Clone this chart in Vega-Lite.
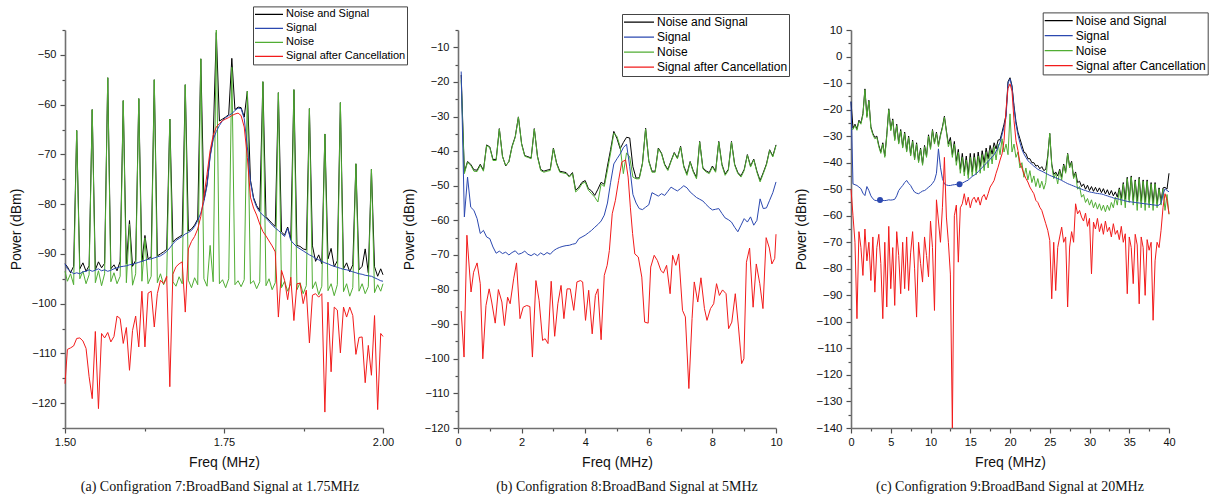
{
"$schema":"https://vega.github.io/schema/vega-lite/v6.json",
"padding":{"left":9,"top":5,"right":4,"bottom":4},
"background":"white",
"bounds":"flush",
"spacing":75,
"resolve":{"scale":{"color":"independent"},"legend":{"color":"independent"}},
"config":{
"view":{"stroke":null},
"axis":{"labelFont":"Liberation Sans","labelFontSize":11,"labelColor":"#111111","titleFont":"Liberation Sans","titleFontSize":14,"titleFontWeight":"normal","titleColor":"#111111","domainColor":"#707070","domainWidth":1.6,"tickColor":"#505050","tickWidth":1.2,"grid":false,"labelFlush":false,"labelOverlap":false},
"axisX":{"labelPadding":3,"titlePadding":8},
"axisY":{"labelPadding":4,"titlePadding":8},
"legend":{"orient":"none","direction":"vertical","strokeColor":"#444444","fillColor":"#ffffff","padding":1,"symbolType":"stroke","symbolStrokeWidth":1.3,"labelFont":"Liberation Sans","labelColor":"#000000","labelOffset":2,"rowPadding":0},
"title":{"font":"Liberation Serif","fontSize":14,"fontWeight":"normal","color":"#111111"}
},
"datasets":{
"A":[
{"x":1.5,"k":-92,"b":-92,"g":-93.5,"r":-116.1},
{"x":1.5038,"k":-92.6,"b":-93,"g":-95.5,"r":-109.2},
{"x":1.5087,"k":-93.8,"b":-93.5,"g":-94,"r":-108.9},
{"x":1.5136,"k":-92.5,"b":-94,"g":-96.2,"r":-108.5},
{"x":1.5184,"k":-65.2,"b":-93.8,"g":-65.2,"r":-107},
{"x":1.5233,"k":-93,"b":-94,"g":-95,"r":-106.9},
{"x":1.5282,"k":-91.8,"b":-93.6,"g":-93.5,"r":-107.5},
{"x":1.5331,"k":-93.5,"b":-93.5,"g":-96,"r":-109},
{"x":1.5379,"k":-92.4,"b":-93.2,"g":-94.2,"r":-114.7},
{"x":1.5428,"k":-61,"b":-93.5,"g":-61,"r":-119.1},
{"x":1.5477,"k":-93.2,"b":-93.3,"g":-95.8,"r":-105.6},
{"x":1.5526,"k":-91.6,"b":-93,"g":-93.4,"r":-121.1},
{"x":1.5575,"k":-92.8,"b":-93.4,"g":-96.4,"r":-106},
{"x":1.5623,"k":-91.9,"b":-93.2,"g":-94,"r":-106.9},
{"x":1.5672,"k":-54.6,"b":-93.5,"g":-54.6,"r":-105.8},
{"x":1.5721,"k":-93,"b":-93.3,"g":-95.6,"r":-107.7},
{"x":1.577,"k":-92.2,"b":-93,"g":-93.8,"r":-106.6},
{"x":1.5818,"k":-93.4,"b":-92.8,"g":-96,"r":-102.5},
{"x":1.5867,"k":-91.5,"b":-92.6,"g":-94.5,"r":-103},
{"x":1.5916,"k":-59.2,"b":-92.5,"g":-59.2,"r":-108},
{"x":1.5965,"k":-92,"b":-92.4,"g":-95.8,"r":-104.8},
{"x":1.6014,"k":-83.3,"b":-92.2,"g":-84,"r":-113.4},
{"x":1.6062,"k":-92.5,"b":-92.1,"g":-96.3,"r":-105.4},
{"x":1.6111,"k":-91.3,"b":-91.9,"g":-94,"r":-102.5},
{"x":1.616,"k":-58.8,"b":-91.7,"g":-58.8,"r":-108.7},
{"x":1.6209,"k":-91.6,"b":-91.5,"g":-95.5,"r":-97.5},
{"x":1.6257,"k":-86.3,"b":-91.3,"g":-86.8,"r":-108.7},
{"x":1.6306,"k":-91,"b":-91.1,"g":-96,"r":-97.9},
{"x":1.6355,"k":-90.6,"b":-91,"g":-94.5,"r":-97.5},
{"x":1.6404,"k":-55,"b":-90.8,"g":-55,"r":-104.7},
{"x":1.6452,"k":-90.4,"b":-90.6,"g":-95.8,"r":-98},
{"x":1.6501,"k":-90,"b":-90.4,"g":-94,"r":-95.3},
{"x":1.655,"k":-89.6,"b":-90,"g":-96.2,"r":-96},
{"x":1.6599,"k":-89.1,"b":-89.5,"g":-94.8,"r":-94.5},
{"x":1.6648,"k":-62.9,"b":-88.8,"g":-62.9,"r":-116.7},
{"x":1.6696,"k":-87.6,"b":-88,"g":-95.6,"r":-94.1},
{"x":1.6745,"k":-87,"b":-87.3,"g":-96.5,"r":-92.6},
{"x":1.6794,"k":-86.6,"b":-86.9,"g":-94.6,"r":-92},
{"x":1.6843,"k":-86.2,"b":-86.5,"g":-96,"r":-91.6},
{"x":1.6891,"k":-56,"b":-86,"g":-56,"r":-101.7},
{"x":1.694,"k":-85.4,"b":-85.7,"g":-95.3,"r":-89},
{"x":1.6989,"k":-85,"b":-85.3,"g":-96.8,"r":-87.5},
{"x":1.7038,"k":-84.2,"b":-84.5,"g":-94.8,"r":-86.5},
{"x":1.7087,"k":-83,"b":-83.3,"g":-96.2,"r":-85},
{"x":1.7135,"k":-50.8,"b":-81.8,"g":-50.8,"r":-82.5},
{"x":1.7184,"k":-79.2,"b":-79.5,"g":-95,"r":-78.5},
{"x":1.7233,"k":-76,"b":-76.3,"g":-96.5,"r":-74},
{"x":1.7282,"k":-70.2,"b":-70.5,"g":-88.3,"r":-69.2},
{"x":1.733,"k":-66.7,"b":-67,"g":-95.6,"r":-66.2},
{"x":1.7379,"k":-45.5,"b":-65.4,"g":-45,"r":-64.5},
{"x":1.7428,"k":-63.3,"b":-64.2,"g":-96,"r":-63.8},
{"x":1.7477,"k":-62.9,"b":-63.2,"g":-95.2,"r":-63.2},
{"x":1.7526,"k":-62.5,"b":-62.6,"g":-96.8,"r":-62.9},
{"x":1.7574,"k":-62,"b":-62.2,"g":-95,"r":-62.6},
{"x":1.7623,"k":-50.7,"b":-61.8,"g":-52.5,"r":-62.2},
{"x":1.7672,"k":-61,"b":-61.2,"g":-96.2,"r":-61.9},
{"x":1.7721,"k":-60.5,"b":-60.7,"g":-95.4,"r":-61.7},
{"x":1.7769,"k":-60.6,"b":-60.8,"g":-96.6,"r":-62.2},
{"x":1.7818,"k":-62.5,"b":-62.8,"g":-95.2,"r":-64.5},
{"x":1.7867,"k":-57.3,"b":-68.5,"g":-57.3,"r":-70.6},
{"x":1.7916,"k":-75.2,"b":-75.5,"g":-96,"r":-78.6},
{"x":1.7965,"k":-78.7,"b":-79,"g":-95.4,"r":-80.8},
{"x":1.8013,"k":-80.3,"b":-80.6,"g":-97,"r":-82.2},
{"x":1.8062,"k":-81.3,"b":-81.6,"g":-95.6,"r":-84},
{"x":1.8111,"k":-55.4,"b":-82.2,"g":-55.4,"r":-85.5},
{"x":1.816,"k":-82.5,"b":-82.8,"g":-96.4,"r":-86.4},
{"x":1.8208,"k":-83.2,"b":-83.5,"g":-95,"r":-87.4},
{"x":1.8257,"k":-83.9,"b":-84.2,"g":-97.2,"r":-88.4},
{"x":1.8306,"k":-84.5,"b":-84.8,"g":-95.8,"r":-89.6},
{"x":1.8355,"k":-57.6,"b":-85.3,"g":-57.6,"r":-102.7},
{"x":1.8404,"k":-85.6,"b":-85.9,"g":-96.8,"r":-93.3},
{"x":1.8452,"k":-86.2,"b":-86.5,"g":-95.5,"r":-95.3},
{"x":1.8501,"k":-84.6,"b":-84.8,"g":-97.5,"r":-99.2},
{"x":1.855,"k":-87,"b":-87.3,"g":-96,"r":-94.7},
{"x":1.8599,"k":-57,"b":-88,"g":-57,"r":-103.4},
{"x":1.8647,"k":-88.3,"b":-88.6,"g":-97.2,"r":-96},
{"x":1.8696,"k":-88.5,"b":-89,"g":-95.8,"r":-95.9},
{"x":1.8745,"k":-89,"b":-89.4,"g":-98,"r":-100},
{"x":1.8794,"k":-89.2,"b":-89.8,"g":-96.4,"r":-97.3},
{"x":1.8843,"k":-60.8,"b":-90.2,"g":-60.8,"r":-107.9},
{"x":1.8891,"k":-88.4,"b":-90.5,"g":-97,"r":-98.3},
{"x":1.894,"k":-91.5,"b":-90.9,"g":-95.6,"r":-98},
{"x":1.8989,"k":-90.2,"b":-91.2,"g":-98.2,"r":-98.7},
{"x":1.9038,"k":-92,"b":-91.5,"g":-96.5,"r":-98},
{"x":1.9086,"k":-65.9,"b":-91.8,"g":-65.9,"r":-121.8},
{"x":1.9135,"k":-91,"b":-92,"g":-97.4,"r":-99.7},
{"x":1.9184,"k":-88.9,"b":-92.3,"g":-96,"r":-113.7},
{"x":1.9233,"k":-92.6,"b":-92.5,"g":-98.4,"r":-100.7},
{"x":1.9282,"k":-91.4,"b":-92.7,"g":-96.2,"r":-101.3},
{"x":1.933,"k":-59.6,"b":-92.9,"g":-59.6,"r":-109.9},
{"x":1.9379,"k":-93,"b":-93.1,"g":-97.6,"r":-100.7},
{"x":1.9428,"k":-91.8,"b":-93.2,"g":-96,"r":-102.7},
{"x":1.9477,"k":-93.6,"b":-93.4,"g":-98.5,"r":-100.7},
{"x":1.9525,"k":-92.2,"b":-93.6,"g":-96.8,"r":-102.4},
{"x":1.9574,"k":-71.9,"b":-93.8,"g":-71.9,"r":-110.2},
{"x":1.9623,"k":-93.2,"b":-94,"g":-97.5,"r":-106.8},
{"x":1.9672,"k":-92.5,"b":-94.1,"g":-96,"r":-106.7},
{"x":1.972,"k":-89,"b":-94.3,"g":-98,"r":-115.9},
{"x":1.9769,"k":-93.8,"b":-94.4,"g":-96.6,"r":-108.4},
{"x":1.9818,"k":-73,"b":-94.5,"g":-73,"r":-114.4},
{"x":1.9867,"k":-92.6,"b":-94.8,"g":-97.8,"r":-102.4},
{"x":1.9916,"k":-94.5,"b":-95.1,"g":-96.2,"r":-121.3},
{"x":1.9964,"k":-93,"b":-95.4,"g":-97.5,"r":-106},
{"x":2.0,"k":-94.2,"b":-95.5,"g":-96,"r":-106.6}
],
"B":[
{"x":0.1,"k":-18,"b":-17,"g":-19.5},
{"x":0.2,"k":-46,"b":-59,"g":-46.5},
{"x":0.3,"k":-43,"b":-47.5,"g":-43.2},
{"x":0.4,"k":-43.8,"b":-56.2,"g":-44.1},
{"x":0.5,"k":-45.4,"b":-57.1,"g":-45.8},
{"x":0.6,"k":-45.5,"b":-59.5,"g":-45.9},
{"x":0.7,"k":-43.8,"b":-63.8,"g":-44.1},
{"x":0.8,"k":-45.5,"b":-62.9,"g":-45.8},
{"x":0.9,"k":-38.2,"b":-64.8,"g":-38.4},
{"x":1.0,"k":-38.8,"b":-65.3,"g":-39},
{"x":1.1,"k":-42.4,"b":-67.7,"g":-42.7},
{"x":1.2,"k":-42.4,"b":-69.5,"g":-42.7},
{"x":1.3,"k":-33.5,"b":-68.9,"g":-33.6},
{"x":1.4,"k":-41.5,"b":-69.6,"g":-41.7},
{"x":1.5,"k":-44.3,"b":-69.2,"g":-44.1},
{"x":1.6,"k":-43,"b":-70,"g":-43.2},
{"x":1.7,"k":-38.6,"b":-69.3,"g":-38.8},
{"x":1.8,"k":-35.8,"b":-68.8,"g":-36},
{"x":1.9,"k":-30.1,"b":-69.8,"g":-30.2},
{"x":2.0,"k":-37.8,"b":-69.5,"g":-38},
{"x":2.1,"k":-41.3,"b":-68.9,"g":-41.5},
{"x":2.2,"k":-41.6,"b":-69.8,"g":-41.8},
{"x":2.3,"k":-42,"b":-70.2,"g":-42.2},
{"x":2.4,"k":-33.5,"b":-69.6,"g":-33.6},
{"x":2.5,"k":-41.5,"b":-70.2,"g":-41.7},
{"x":2.6,"k":-45.3,"b":-69.4,"g":-45.6},
{"x":2.7,"k":-45.8,"b":-70,"g":-46.1},
{"x":2.8,"k":-45.5,"b":-69.3,"g":-45.8},
{"x":2.9,"k":-45.3,"b":-69.8,"g":-45.6},
{"x":3.0,"k":-39.1,"b":-68.8,"g":-39.3},
{"x":3.1,"k":-43.4,"b":-68.2,"g":-43.7},
{"x":3.2,"k":-45.8,"b":-67.8,"g":-46.1},
{"x":3.3,"k":-46,"b":-67.5,"g":-46.3},
{"x":3.4,"k":-46.2,"b":-67.3,"g":-46.5},
{"x":3.5,"k":-47.3,"b":-67.2,"g":-47.5},
{"x":3.6,"k":-46.2,"b":-66.9,"g":-46.5},
{"x":3.7,"k":-51.3,"b":-66.7,"g":-51.8},
{"x":3.8,"k":-50.4,"b":-65.3,"g":-50.9},
{"x":3.9,"k":-49,"b":-64.8,"g":-49.4},
{"x":4.0,"k":-48.5,"b":-64.3,"g":-48.9},
{"x":4.1,"k":-50.8,"b":-63.6,"g":-51.3},
{"x":4.2,"k":-51.5,"b":-62.9,"g":-52.3},
{"x":4.3,"k":-52.8,"b":-62,"g":-53.3},
{"x":4.4,"k":-51,"b":-61.2,"g":-54.7},
{"x":4.5,"k":-49,"b":-60.2,"g":-49.5},
{"x":4.6,"k":-49.6,"b":-58.5,"g":-50.2},
{"x":4.7,"k":-44.3,"b":-55,"g":-45.5},
{"x":4.8,"k":-39.5,"b":-49,"g":-40.5},
{"x":4.9,"k":-34.3,"b":-43.7,"g":-34.8},
{"x":5.0,"k":-36.4,"b":-42.2,"g":-35.8},
{"x":5.1,"k":-39.3,"b":-40.8,"g":-38.8},
{"x":5.2,"k":-37.5,"b":-39,"g":-46.5},
{"x":5.3,"k":-36,"b":-38,"g":-40.5},
{"x":5.4,"k":-36.2,"b":-44.5,"g":-41.7},
{"x":5.5,"k":-44.5,"b":-52.5,"g":-47.5},
{"x":5.6,"k":-47.8,"b":-55,"g":-48},
{"x":5.7,"k":-47.7,"b":-56.6,"g":-48},
{"x":5.8,"k":-43.5,"b":-56.9,"g":-43.7},
{"x":5.9,"k":-33.4,"b":-56.2,"g":-33.6},
{"x":6.0,"k":-42.8,"b":-55.5,"g":-43},
{"x":6.1,"k":-45.8,"b":-52,"g":-46.1},
{"x":6.2,"k":-45.8,"b":-52.5,"g":-46.1},
{"x":6.3,"k":-39.1,"b":-53,"g":-39.3},
{"x":6.4,"k":-40.6,"b":-52.3,"g":-40.8},
{"x":6.5,"k":-43.8,"b":-52.8,"g":-44.1},
{"x":6.6,"k":-45.3,"b":-51.6,"g":-45.6},
{"x":6.7,"k":-42.8,"b":-50.4,"g":-43},
{"x":6.8,"k":-40.4,"b":-51,"g":-40.6},
{"x":6.9,"k":-42,"b":-51.5,"g":-42.2},
{"x":7.0,"k":-38.6,"b":-50.8,"g":-38.8},
{"x":7.1,"k":-44.3,"b":-50,"g":-44.6},
{"x":7.2,"k":-46.6,"b":-50.6,"g":-47},
{"x":7.3,"k":-43,"b":-51.8,"g":-43.2},
{"x":7.4,"k":-45.8,"b":-52.6,"g":-46.1},
{"x":7.5,"k":-47.6,"b":-53.4,"g":-48},
{"x":7.6,"k":-37.2,"b":-53.9,"g":-37.4},
{"x":7.7,"k":-44.8,"b":-54.4,"g":-45.1},
{"x":7.8,"k":-45.7,"b":-55.4,"g":-46},
{"x":7.9,"k":-46.2,"b":-56.3,"g":-46.5},
{"x":8.0,"k":-44.3,"b":-57,"g":-44.6},
{"x":8.1,"k":-45.8,"b":-56.8,"g":-46.1},
{"x":8.2,"k":-37.2,"b":-56.6,"g":-37.4},
{"x":8.3,"k":-43.8,"b":-58,"g":-44.1},
{"x":8.4,"k":-46.6,"b":-59.3,"g":-47},
{"x":8.5,"k":-45.3,"b":-59.8,"g":-45.6},
{"x":8.6,"k":-37.2,"b":-60.5,"g":-37.4},
{"x":8.7,"k":-43.8,"b":-62,"g":-44.1},
{"x":8.8,"k":-46.2,"b":-63.3,"g":-46.5},
{"x":8.9,"k":-47.1,"b":-61.4,"g":-47.5},
{"x":9.0,"k":-45.3,"b":-59.5,"g":-45.6},
{"x":9.1,"k":-41,"b":-60.5,"g":-41.2},
{"x":9.2,"k":-44.3,"b":-59,"g":-44.6},
{"x":9.3,"k":-42.3,"b":-61.4,"g":-42.5},
{"x":9.4,"k":-45.8,"b":-60,"g":-46.1},
{"x":9.5,"k":-48.5,"b":-53.8,"g":-48.9},
{"x":9.6,"k":-46.2,"b":-56.6,"g":-46.5},
{"x":9.7,"k":-43.7,"b":-56.4,"g":-44},
{"x":9.8,"k":-39.6,"b":-54.2,"g":-39.8},
{"x":9.9,"k":-41.4,"b":-52,"g":-41.7},
{"x":10.0,"k":-38.2,"b":-48.9,"g":-38.4}
],
"Br":[
{"x":0.1,"r":-86.2},{"x":0.19,"r":-99.5},{"x":0.28,"r":-64.3},{"x":0.41,"r":-80.7},{"x":0.49,"r":-75},{"x":0.6,"r":-72.3},{"x":0.7,"r":-78.3},{"x":0.78,"r":-100},{"x":0.88,"r":-84.6},{"x":0.98,"r":-79.8},
{"x":1.06,"r":-83.6},{"x":1.17,"r":-89.7},{"x":1.27,"r":-80},{"x":1.38,"r":-83.6},{"x":1.46,"r":-90.4},{"x":1.56,"r":-82.2},{"x":1.64,"r":-84.1},{"x":1.75,"r":-76.9},{"x":1.84,"r":-72.3},{"x":1.95,"r":-88.4},
{"x":2.05,"r":-85.1},{"x":2.16,"r":-84.6},{"x":2.26,"r":-84.9},{"x":2.34,"r":-99.5},{"x":2.45,"r":-77.4},{"x":2.55,"r":-83.1},{"x":2.66,"r":-94.7},{"x":2.74,"r":-94.2},{"x":2.83,"r":-95.6},{"x":2.93,"r":-77.6},
{"x":3.04,"r":-93.5},{"x":3.14,"r":-84.1},{"x":3.24,"r":-78.8},{"x":3.33,"r":-88.4},{"x":3.43,"r":-79.8},{"x":3.53,"r":-79.8},{"x":3.64,"r":-86},{"x":3.74,"r":-77.8},{"x":3.85,"r":-77.4},{"x":3.92,"r":-77.8},
{"x":4.01,"r":-88.9},{"x":4.11,"r":-80.2},{"x":4.22,"r":-92.8},{"x":4.32,"r":-81.7},{"x":4.4,"r":-79.8},{"x":4.5,"r":-94.5},{"x":4.6,"r":-75.9},{"x":4.69,"r":-73},{"x":4.76,"r":-68.7},{"x":4.85,"r":-58.1},
{"x":4.95,"r":-54.2},{"x":5.05,"r":-48.5},{"x":5.15,"r":-43.2},{"x":5.27,"r":-42.5},{"x":5.35,"r":-47.5},{"x":5.42,"r":-56.2},{"x":5.49,"r":-63.8},{"x":5.56,"r":-69.7},{"x":5.67,"r":-70.6},{"x":5.78,"r":-76.4},
{"x":5.87,"r":-89.4},{"x":5.98,"r":-89.7},{"x":6.06,"r":-73.5},{"x":6.17,"r":-70.1},{"x":6.27,"r":-71.6},{"x":6.38,"r":-74.5},{"x":6.46,"r":-75.2},{"x":6.56,"r":-73},{"x":6.67,"r":-81.2},{"x":6.75,"r":-70.1},
{"x":6.85,"r":-73},{"x":6.94,"r":-69.7},{"x":7.06,"r":-86},{"x":7.15,"r":-87.9},{"x":7.26,"r":-108.6},{"x":7.36,"r":-88.4},{"x":7.43,"r":-77.8},{"x":7.54,"r":-83.6},{"x":7.64,"r":-76.6},{"x":7.75,"r":-85.5},
{"x":7.83,"r":-88.9},{"x":7.94,"r":-85.5},{"x":8.04,"r":-84.1},{"x":8.13,"r":-78.3},{"x":8.22,"r":-81.7},{"x":8.32,"r":-80.1},{"x":8.43,"r":-81.2},{"x":8.51,"r":-91.3},{"x":8.61,"r":-89.4},{"x":8.72,"r":-81.2},
{"x":8.82,"r":-90.8},{"x":8.92,"r":-101.4},{"x":8.99,"r":-100},{"x":9.07,"r":-72.1},{"x":9.17,"r":-68},{"x":9.28,"r":-85.1},{"x":9.38,"r":-72.6},{"x":9.49,"r":-78.3},{"x":9.59,"r":-85.5},{"x":9.69,"r":-65},
{"x":9.79,"r":-68},{"x":9.87,"r":-72.6},{"x":9.96,"r":-71},{"x":10.0,"r":-64}
],
"C":[
{"x":0,"k":-17,"b":-17,"g":-27,"r":-50},
{"x":0.25,"k":-27,"b":-48,"g":-27.5,"r":-60},
{"x":0.5,"k":-25.5,"b":-48.3,"g":-26,"r":-70},
{"x":0.75,"k":-27.3,"b":-48.6,"g":-27.8,"r":-98.8},
{"x":1,"k":-24,"b":-49.2,"g":-24.5,"r":-66},
{"x":1.25,"k":-25,"b":-49.8,"g":-25.5,"r":-72},
{"x":1.5,"k":-21.5,"b":-51.5,"g":-22,"r":-82.5},
{"x":1.75,"k":-12.2,"b":-52.4,"g":-12.5,"r":-65},
{"x":2,"k":-22.5,"b":-49,"g":-23,"r":-77},
{"x":2.25,"k":-16.5,"b":-50.5,"g":-16.8,"r":-70},
{"x":2.5,"k":-26.5,"b":-52.5,"g":-27,"r":-84.4},
{"x":2.75,"k":-29,"b":-53.6,"g":-29.5,"r":-68},
{"x":3,"k":-30.5,"b":-54.2,"g":-31,"r":-88.8},
{"x":3.25,"k":-30,"b":-54.3,"g":-30.5,"r":-72},
{"x":3.5,"k":-33.5,"b":-54.1,"g":-34,"r":-67},
{"x":3.75,"k":-36,"b":-54,"g":-36.5,"r":-78},
{"x":4,"k":-32.5,"b":-54.2,"g":-33,"r":-98.8},
{"x":4.25,"k":-37.5,"b":-54.3,"g":-38,"r":-70},
{"x":4.5,"k":-29.5,"b":-54.2,"g":-30,"r":-94.4},
{"x":4.75,"k":-19.7,"b":-54,"g":-20,"r":-64},
{"x":5,"k":-27.5,"b":-54.1,"g":-28,"r":-87.5},
{"x":5.25,"k":-23.5,"b":-54,"g":-24,"r":-72},
{"x":5.5,"k":-31.2,"b":-53.8,"g":-31.7,"r":-93.8},
{"x":5.75,"k":-25.5,"b":-52.5,"g":-26,"r":-66},
{"x":6,"k":-32.5,"b":-50.5,"g":-33,"r":-75},
{"x":6.25,"k":-27.5,"b":-49.5,"g":-28,"r":-89.4},
{"x":6.5,"k":-34,"b":-48.6,"g":-34.5,"r":-70},
{"x":6.75,"k":-28.5,"b":-47.5,"g":-29,"r":-87.5},
{"x":7,"k":-35.5,"b":-46.7,"g":-36,"r":-68},
{"x":7.25,"k":-30,"b":-47.8,"g":-30.5,"r":-88.2},
{"x":7.5,"k":-37,"b":-48.6,"g":-37.5,"r":-74},
{"x":7.75,"k":-31.5,"b":-50,"g":-32,"r":-66},
{"x":8,"k":-38.5,"b":-51.1,"g":-39,"r":-80},
{"x":8.25,"k":-32.5,"b":-51.5,"g":-33,"r":-98.2},
{"x":8.5,"k":-39.5,"b":-51.7,"g":-40,"r":-70},
{"x":8.75,"k":-34.5,"b":-51.2,"g":-35,"r":-78},
{"x":9,"k":-40.5,"b":-50.7,"g":-41,"r":-85},
{"x":9.25,"k":-33.5,"b":-50.5,"g":-34,"r":-68},
{"x":9.5,"k":-37.5,"b":-50,"g":-38,"r":-75},
{"x":9.75,"k":-29.5,"b":-49.2,"g":-30,"r":-83},
{"x":10,"k":-34.5,"b":-48.7,"g":-35,"r":-62},
{"x":10.25,"k":-27.5,"b":-47.8,"g":-27.9,"r":-72},
{"x":10.5,"k":-32.5,"b":-46.7,"g":-33,"r":-95.7},
{"x":10.75,"k":-28.5,"b":-44,"g":-29,"r":-54},
{"x":11,"k":-33.5,"b":-34.8,"g":-34,"r":-62},
{"x":11.25,"k":-29.5,"b":-41.7,"g":-30,"r":-70},
{"x":11.5,"k":-26.5,"b":-46,"g":-27,"r":-56.8},
{"x":11.75,"k":-22.5,"b":-48,"g":-22.9,"r":-38},
{"x":12,"k":-28,"b":-48.4,"g":-28.5,"r":-60.5},
{"x":12.25,"k":-33,"b":-48.6,"g":-34,"r":-70},
{"x":12.5,"k":-30.5,"b":-48.6,"g":-31.7,"r":-82},
{"x":12.75,"k":-37,"b":-48.4,"g":-38,"r":-140},
{"x":13,"k":-32,"b":-48.3,"g":-33,"r":-60},
{"x":13.25,"k":-39.5,"b":-48.2,"g":-41,"r":-56},
{"x":13.5,"k":-35,"b":-48.1,"g":-36,"r":-77.5},
{"x":13.75,"k":-42.5,"b":-48,"g":-44,"r":-57},
{"x":14,"k":-36.5,"b":-47.7,"g":-38,"r":-55.5},
{"x":14.25,"k":-43.5,"b":-47.3,"g":-45,"r":-51.7},
{"x":14.5,"k":-37.5,"b":-46.9,"g":-39,"r":-56},
{"x":14.75,"k":-44.5,"b":-46.6,"g":-46,"r":-53},
{"x":15,"k":-36.5,"b":-45.8,"g":-38,"r":-57},
{"x":15.25,"k":-43.5,"b":-45.2,"g":-45,"r":-54},
{"x":15.5,"k":-36.5,"b":-44.7,"g":-38,"r":-53},
{"x":15.75,"k":-43,"b":-44.2,"g":-44.5,"r":-55},
{"x":16,"k":-36,"b":-43.4,"g":-37.5,"r":-53},
{"x":16.25,"k":-41.5,"b":-42.6,"g":-44,"r":-56},
{"x":16.5,"k":-35.5,"b":-41.8,"g":-37,"r":-53},
{"x":16.75,"k":-40,"b":-41.1,"g":-43,"r":-52},
{"x":17,"k":-34.5,"b":-40.3,"g":-36,"r":-54},
{"x":17.25,"k":-38.5,"b":-39.5,"g":-42,"r":-51.7},
{"x":17.5,"k":-33.5,"b":-38.7,"g":-35,"r":-49.2},
{"x":17.75,"k":-36.8,"b":-37.8,"g":-40.5,"r":-48},
{"x":18,"k":-32.5,"b":-37,"g":-34,"r":-46.7},
{"x":18.25,"k":-34.8,"b":-35.8,"g":-39,"r":-44},
{"x":18.5,"k":-31.5,"b":-34.2,"g":-33,"r":-41.7},
{"x":18.75,"k":-31.3,"b":-32.3,"g":-37,"r":-39},
{"x":19,"k":-28.5,"b":-29.5,"g":-31,"r":-36.7},
{"x":19.25,"k":-25.5,"b":-26.5,"g":-36,"r":-31.7},
{"x":19.5,"k":-22,"b":-23,"g":-33,"r":-20},
{"x":19.75,"k":-9.5,"b":-10,"g":-37,"r":-12},
{"x":20,"k":-8,"b":-8.4,"g":-21.6,"r":-10.3},
{"x":20.25,"k":-11,"b":-11.5,"g":-36,"r":-13},
{"x":20.5,"k":-18.5,"b":-19.1,"g":-33,"r":-24},
{"x":20.75,"k":-24.5,"b":-25.5,"g":-38,"r":-31.7},
{"x":21,"k":-28.5,"b":-29.5,"g":-36,"r":-35.4},
{"x":21.25,"k":-31,"b":-32.5,"g":-42,"r":-40},
{"x":21.5,"k":-33.5,"b":-35,"g":-40,"r":-42},
{"x":21.75,"k":-36,"b":-36.7,"g":-45.5,"r":-44.2},
{"x":22,"k":-36.5,"b":-38,"g":-42,"r":-46},
{"x":22.25,"k":-38.5,"b":-39.2,"g":-46.5,"r":-47.3},
{"x":22.5,"k":-38.5,"b":-40,"g":-43,"r":-49.2},
{"x":22.75,"k":-40,"b":-40.6,"g":-47.5,"r":-50.5},
{"x":23,"k":-40,"b":-41.3,"g":-45,"r":-51.7},
{"x":23.25,"k":-41.3,"b":-41.9,"g":-49,"r":-54.2},
{"x":23.5,"k":-41,"b":-42.5,"g":-46,"r":-55},
{"x":23.75,"k":-42.3,"b":-42.9,"g":-49.5,"r":-56.8},
{"x":24,"k":-41.5,"b":-43.2,"g":-47,"r":-58},
{"x":24.25,"k":-43,"b":-43.6,"g":-50,"r":-60.5},
{"x":24.5,"k":-42.5,"b":-44,"g":-47.5,"r":-63},
{"x":24.75,"k":-37.5,"b":-44.4,"g":-38,"r":-65.5},
{"x":25,"k":-29,"b":-44.8,"g":-29,"r":-69.3},
{"x":25.25,"k":-40.5,"b":-45.1,"g":-41,"r":-91.3},
{"x":25.5,"k":-44.5,"b":-45.4,"g":-46,"r":-70},
{"x":25.75,"k":-43.5,"b":-45.7,"g":-44,"r":-88.2},
{"x":26,"k":-45,"b":-46,"g":-48,"r":-72},
{"x":26.25,"k":-42.5,"b":-46.3,"g":-43,"r":-68},
{"x":26.5,"k":-45.5,"b":-46.7,"g":-46.5,"r":-64.3},
{"x":26.75,"k":-40.5,"b":-47.1,"g":-41,"r":-70},
{"x":27,"k":-43.5,"b":-47.5,"g":-44,"r":-68},
{"x":27.25,"k":-36.5,"b":-47.9,"g":-36.7,"r":-94.4},
{"x":27.5,"k":-41.5,"b":-48.2,"g":-42,"r":-71.8},
{"x":27.75,"k":-39.5,"b":-48.5,"g":-40,"r":-66},
{"x":28,"k":-45.5,"b":-48.8,"g":-46,"r":-70},
{"x":28.25,"k":-43.5,"b":-49.1,"g":-44,"r":-55.5},
{"x":28.5,"k":-47.5,"b":-49.4,"g":-50,"r":-59.3},
{"x":28.75,"k":-47,"b":-49.7,"g":-49,"r":-58},
{"x":29,"k":-49,"b":-50,"g":-53,"r":-60.5},
{"x":29.25,"k":-48,"b":-50.3,"g":-52,"r":-62},
{"x":29.5,"k":-50,"b":-50.5,"g":-55,"r":-59},
{"x":29.75,"k":-48.5,"b":-50.8,"g":-53.5,"r":-64},
{"x":30,"k":-50.5,"b":-51,"g":-56,"r":-61},
{"x":30.25,"k":-49,"b":-51.2,"g":-54,"r":-81.9},
{"x":30.5,"k":-50.8,"b":-51.3,"g":-57,"r":-62.4},
{"x":30.75,"k":-49.3,"b":-51.5,"g":-55,"r":-65},
{"x":31,"k":-51,"b":-51.6,"g":-57.5,"r":-61},
{"x":31.25,"k":-49.5,"b":-51.7,"g":-55.5,"r":-66},
{"x":31.5,"k":-51.3,"b":-51.8,"g":-58,"r":-63},
{"x":31.75,"k":-49.8,"b":-52,"g":-56,"r":-67},
{"x":32,"k":-51.8,"b":-52.3,"g":-58.5,"r":-62},
{"x":32.25,"k":-50.2,"b":-52.5,"g":-56,"r":-66},
{"x":32.5,"k":-52.2,"b":-52.8,"g":-58,"r":-64.3},
{"x":32.75,"k":-50.5,"b":-53,"g":-55,"r":-68},
{"x":33,"k":-52.5,"b":-53.3,"g":-57,"r":-63},
{"x":33.25,"k":-51,"b":-53.5,"g":-53,"r":-67},
{"x":33.5,"k":-53,"b":-53.6,"g":-56,"r":-65.5},
{"x":33.75,"k":-49.5,"b":-53.8,"g":-50,"r":-69},
{"x":34,"k":-53.5,"b":-54,"g":-56,"r":-64},
{"x":34.25,"k":-47.5,"b":-54.2,"g":-48,"r":-70},
{"x":34.5,"k":-53.8,"b":-54.4,"g":-57,"r":-66.8},
{"x":34.75,"k":-45.5,"b":-54.6,"g":-46,"r":-89.4},
{"x":35,"k":-54,"b":-54.7,"g":-55,"r":-68},
{"x":35.25,"k":-45,"b":-54.8,"g":-45.5,"r":-72},
{"x":35.5,"k":-54.3,"b":-54.9,"g":-56,"r":-85.6},
{"x":35.75,"k":-46.5,"b":-55,"g":-47,"r":-67},
{"x":36,"k":-54.5,"b":-55.1,"g":-58,"r":-71},
{"x":36.25,"k":-45.5,"b":-55.2,"g":-46,"r":-93.2},
{"x":36.5,"k":-54.6,"b":-55.3,"g":-57,"r":-68},
{"x":36.75,"k":-46.5,"b":-55.4,"g":-47,"r":-72},
{"x":37,"k":-54.8,"b":-55.5,"g":-58,"r":-90},
{"x":37.25,"k":-46.5,"b":-55.6,"g":-47,"r":-69},
{"x":37.5,"k":-55,"b":-55.7,"g":-57,"r":-73},
{"x":37.75,"k":-47.5,"b":-55.8,"g":-48,"r":-70},
{"x":38,"k":-55.2,"b":-55.9,"g":-58,"r":-99.4},
{"x":38.25,"k":-47.5,"b":-56,"g":-48,"r":-77},
{"x":38.5,"k":-55.4,"b":-56.1,"g":-57,"r":-70},
{"x":38.75,"k":-49.5,"b":-56,"g":-50,"r":-72},
{"x":39,"k":-54.5,"b":-55.2,"g":-56,"r":-65.5},
{"x":39.25,"k":-49.5,"b":-52,"g":-50,"r":-56.8},
{"x":39.5,"k":-49.3,"b":-49.8,"g":-58,"r":-51.7},
{"x":39.75,"k":-50,"b":-50.5,"g":-52,"r":-54.2},
{"x":40,"k":-44,"b":-51,"g":-59.5,"r":-59.3}
],
"Cd":[{"x":3.65,"y":-54.1},{"x":13.65,"y":-48.1}]
},
"hconcat":[
{
"width":318,"height":398,
"title":{"text":"(a) Configration 7:BroadBand Signal at 1.75MHz","orient":"bottom","anchor":"middle","frame":"group","offset":11,"dx":-4},
"encoding":{"x":{"field":"x","type":"quantitative","title":"Freq (MHz)","scale":{"domain":[1.5,2.0],"nice":false,"zero":false},"axis":{"tickCount":100,"labelOverlap":false,"values":[1.5,1.625,1.75,1.875,2.0],"format":".2f","labelExpr":"abs(datum.value*4-round(datum.value*4))<0.01 ? datum.label : ''","tickSize":{"condition":{"test":"abs(datum.value*4-round(datum.value*4))<0.01","value":5},"value":3}}}},
"layer":[
{"data":{"name":"A"},"mark":{"type":"line","strokeWidth":1},"encoding":{"y":{"field":"k","type":"quantitative","title":"Power (dBm)","scale":{"domain":[-125,-45],"nice":false,"zero":false},"axis":{"tickCount":100,"format":"d","labelOverlap":false,"values":[-125,-120,-115,-110,-105,-100,-95,-90,-85,-80,-75,-70,-65,-60,-55,-50,-45],"labelExpr":"datum.value % 10 === 0 ? datum.label : ''","tickSize":{"condition":{"test":"datum.value % 10 === 0","value":5},"value":3}}},"color":{"datum":"Noise and Signal","scale":{"domain":["Noise and Signal","Signal","Noise","Signal after Cancellation"],"range":["#000000","#2b48b0","#50ad33","#f21b1b"]},"legend":{"title":null,"legendX":188,"legendY":-23.6,"symbolSize":784,"labelFontSize":11,"clipHeight":13.8}}}},
{"data":{"name":"A"},"mark":{"type":"line","strokeWidth":1},"encoding":{"y":{"field":"g","type":"quantitative","title":"Power (dBm)"},"color":{"datum":"Noise"}}},
{"data":{"name":"A"},"mark":{"type":"line","strokeWidth":1},"encoding":{"y":{"field":"b","type":"quantitative","title":"Power (dBm)"},"color":{"datum":"Signal"}}},
{"data":{"name":"A"},"mark":{"type":"line","strokeWidth":1},"encoding":{"y":{"field":"r","type":"quantitative","title":"Power (dBm)"},"color":{"datum":"Signal after Cancellation"}}}
]
},
{
"width":318,"height":398,
"title":{"text":"(b) Configration 8:BroadBand Signal at 5MHz","orient":"bottom","anchor":"middle","frame":"group","offset":11,"dx":10},
"encoding":{"x":{"field":"x","type":"quantitative","title":"Freq (MHz)","scale":{"domain":[0,10],"nice":false,"zero":false},"axis":{"tickCount":100,"format":"d","labelOverlap":false,"values":[0,1,2,3,4,5,6,7,8,9,10],"labelExpr":"datum.value % 2 === 0 ? datum.label : ''","tickSize":{"condition":{"test":"datum.value % 2 === 0","value":5},"value":3}}}},
"layer":[
{"data":{"name":"B"},"mark":{"type":"line","strokeWidth":1},"encoding":{"y":{"field":"k","type":"quantitative","title":"Power (dBm)","scale":{"domain":[-120,-5],"nice":false,"zero":false},"axis":{"tickCount":100,"format":"d","labelOverlap":false,"values":[-120,-115,-110,-105,-100,-95,-90,-85,-80,-75,-70,-65,-60,-55,-50,-45,-40,-35,-30,-25,-20,-15,-10,-5],"labelExpr":"datum.value % 10 === 0 ? datum.label : ''","tickSize":{"condition":{"test":"datum.value % 10 === 0","value":5},"value":3}}},"color":{"datum":"Noise and Signal","scale":{"domain":["Noise and Signal","Signal","Noise","Signal after Cancellation"],"range":["#000000","#2b48b0","#50ad33","#f21b1b"]},"legend":{"title":null,"legendX":164,"legendY":-16,"symbolSize":900,"labelFontSize":12,"clipHeight":14.4}}}},
{"data":{"name":"B"},"mark":{"type":"line","strokeWidth":1},"encoding":{"y":{"field":"g","type":"quantitative","title":"Power (dBm)"},"color":{"datum":"Noise"}}},
{"data":{"name":"B"},"mark":{"type":"line","strokeWidth":1},"encoding":{"y":{"field":"b","type":"quantitative","title":"Power (dBm)"},"color":{"datum":"Signal"}}},
{"data":{"name":"Br"},"mark":{"type":"line","strokeWidth":1},"encoding":{"y":{"field":"r","type":"quantitative","title":"Power (dBm)"},"color":{"datum":"Signal after Cancellation"}}}
]
},
{
"width":318,"height":398,
"title":{"text":"(c) Configration 9:BroadBand Signal at 20MHz","orient":"bottom","anchor":"middle","frame":"group","offset":11,"dx":0},
"encoding":{"x":{"field":"x","type":"quantitative","title":"Freq (MHz)","scale":{"domain":[0,40],"nice":false,"zero":false},"axis":{"tickCount":100,"format":"d","labelOverlap":false,"values":[0,2.5,5,7.5,10,12.5,15,17.5,20,22.5,25,27.5,30,32.5,35,37.5,40],"labelExpr":"datum.value % 5 === 0 ? datum.label : ''","tickSize":{"condition":{"test":"datum.value % 5 === 0","value":5},"value":3}}}},
"layer":[
{"data":{"name":"C"},"mark":{"type":"line","strokeWidth":1},"encoding":{"y":{"field":"k","type":"quantitative","title":"Power (dBm)","scale":{"domain":[-140,10],"nice":false,"zero":false},"axis":{"tickCount":100,"format":"d","labelOverlap":false,"labelFontSize":11.5,"values":[-140,-135,-130,-125,-120,-115,-110,-105,-100,-95,-90,-85,-80,-75,-70,-65,-60,-55,-50,-45,-40,-35,-30,-25,-20,-15,-10,-5,0,5,10],"labelExpr":"datum.value % 10 === 0 ? datum.label : ''","tickSize":{"condition":{"test":"datum.value % 10 === 0","value":5},"value":3}}},"color":{"datum":"Noise and Signal","scale":{"domain":["Noise and Signal","Signal","Noise","Signal after Cancellation"],"range":["#000000","#2b48b0","#50ad33","#f21b1b"]},"legend":{"title":null,"legendX":191.7,"legendY":-17.6,"symbolSize":784,"labelFontSize":12,"clipHeight":14.4}}}},
{"data":{"name":"C"},"mark":{"type":"line","strokeWidth":1},"encoding":{"y":{"field":"g","type":"quantitative","title":"Power (dBm)"},"color":{"datum":"Noise"}}},
{"data":{"name":"C"},"mark":{"type":"line","strokeWidth":1},"encoding":{"y":{"field":"b","type":"quantitative","title":"Power (dBm)"},"color":{"datum":"Signal"}}},
{"data":{"name":"C"},"mark":{"type":"line","strokeWidth":1},"encoding":{"y":{"field":"r","type":"quantitative","title":"Power (dBm)"},"color":{"datum":"Signal after Cancellation"}}},
{"data":{"name":"Cd"},"mark":{"type":"point","filled":true,"size":36,"opacity":1,"color":"#2b48b0"},"encoding":{"y":{"field":"y","type":"quantitative","title":"Power (dBm)"}}}
]
}
]
}
